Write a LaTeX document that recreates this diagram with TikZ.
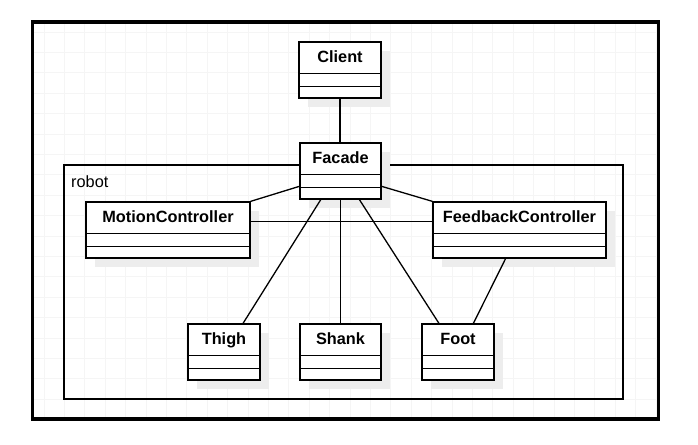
\documentclass[tikz,border=0pt]{standalone}
\usepackage{fontspec}
\setmainfont{Liberation Sans}
\usetikzlibrary{calc,shadows}
\newcommand\umlclass[5]{%
  \pgfmathsetmacro\clsw{#4-#2}%
  \pgfmathsetmacro\clsx{(#2+#4)/2}%
  \pgfmathsetmacro\clsy{#3+28}%
  \node[classbox, minimum width=\clsw pt] (#1) at (\clsx,\clsy) {};
  \node[classtitle] (#1-t) at ($(#1.north)+(0,21.5)$) {#5};
  \draw[classline] ($(#1.north west)+(0,32)$) -- ($(#1.north east)+(0,32)$);
  \draw[classline] ($(#1.north west)+(0,45)$) -- ($(#1.north east)+(0,45)$);
}
\tikzset{
  classbox/.style={draw, line width=1.3pt, fill=white, minimum height=56pt, inner sep=0pt,
    drop shadow={shadow xshift=9pt, shadow yshift=-9pt, fill=black!7, opacity=1}},
  classtitle/.style={anchor=base, inner sep=0pt, font=\fontsize{16.3}{19}\selectfont\bfseries},
  classline/.style={line width=1.3pt},
  conn/.style={line width=1.3pt},
  gridline/.style={black!4, line width=0.7pt}
}
\begin{document}
\begin{tikzpicture}[x=1pt,y=-1pt]
\useasboundingbox (0,0) rectangle (698,444);
\fill[white] (0,0) rectangle (698,444);
% grid
\begin{scope}
\clip (32.5,22) rectangle (658.5,419);
\foreach \k in {0,...,30} {
  \draw[gridline] (44+20.4*\k,22) -- (44+20.4*\k,419);
}
\foreach \k in {0,...,19} {
  \draw[gridline] (32,32+20.4*\k) -- (659,32+20.4*\k);
}
\end{scope}
% frame
\node[draw, line width=3.5pt, minimum width=626pt, minimum height=397pt, inner sep=0pt] (frame) at (345.5,220.5) {};
% package
\node[draw, line width=1.2pt, minimum width=559pt, minimum height=234pt, inner sep=0pt] (robot) at (343.5,282) {};
\node[anchor=base west, inner sep=0pt, font=\fontsize{16.3}{19}\selectfont] (robotlbl) at (71,187) {robot};
% classes
\umlclass{client}{299}{42}{381}{Client}
\umlclass{facade}{300}{143}{381}{Facade}
\umlclass{mc}{86}{202}{250}{MotionController}
\umlclass{fc}{433}{202}{606}{FeedbackController}
\umlclass{thigh}{188}{324}{260}{Thigh}
\umlclass{shank}{300}{324}{381}{Shank}
\umlclass{foot}{422}{324}{494}{Foot}
% connectors
\draw[conn] (client.south) -- (client.south |- facade.north);
\draw[conn] ($(facade.north west)+(0,44)$) -- (mc.north east);
\draw[conn] ($(facade.north east)+(0,44)$) -- (fc.north west);
\draw[conn] ($(mc.north east)+(0,20)$) -- ($(fc.north west)+(0,20)$);
\draw[conn] ($(facade.south west)!0.26!(facade.south east)$) -- ($(thigh.north west)!0.76!(thigh.north east)$);
\draw[conn] (facade.south) -- (facade.south |- shank.north);
\draw[conn] ($(facade.south west)!0.73!(facade.south east)$) -- ($(foot.north west)!0.24!(foot.north east)$);
\draw[conn] ($(fc.south west)!0.42!(fc.south east)$) -- ($(foot.north west)!0.71!(foot.north east)$);
\end{tikzpicture}
\end{document}
